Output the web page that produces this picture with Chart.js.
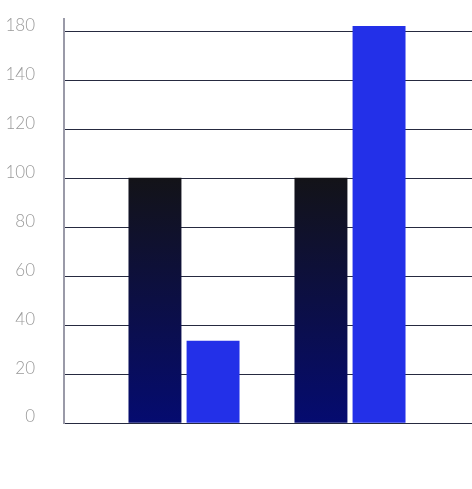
<!DOCTYPE html>
<html>
<head>
<meta charset="utf-8">
<script src="https://cdn.jsdelivr.net/npm/chart.js@4/dist/chart.umd.min.js"></script>
<style>
  html, body { margin: 0; padding: 0; background: #fff; }
  #wrap { width: 472px; height: 489px; }
</style>
</head>
<body>
<div id="wrap"><canvas id="barChart"></canvas></div>
<script>
// Chart data
const categories = [['Current', 'period'], ['Next', 'period']];
const seriesBase = [100, 100];
const seriesNew = [33.5, 162];
const yTickValues = [0, 20, 40, 60, 80, 100, 120, 140, 160];
const yTickLabels = ['0', '20', '40', '60', '80', '100', '120', '140', '180'];

function darkGradient(context) {
    const chart = context.chart;
    const area = chart.chartArea;
    if (!area) return '#0a0d50';
    const y = chart.scales.y;
    const g = chart.ctx.createLinearGradient(0, y.getPixelForValue(100), 0, y.getPixelForValue(0));
    g.addColorStop(0, '#131318');
    g.addColorStop(1, '#050b70');
    return g;
}

const ctx = document.getElementById('barChart').getContext('2d');
new Chart(ctx, {
    type: 'bar',
    data: {
        datasets: [{
            label: 'Base',
            data: seriesBase.map((v, i) => ({ x: i, y: v })),
            backgroundColor: darkGradient,
            borderWidth: 0
        }, {
            label: 'New',
            data: seriesNew.map((v, i) => ({ x: i, y: v })),
            backgroundColor: '#2330e8',
            borderWidth: 0
        }]
    },
    options: {
        responsive: true,
        maintainAspectRatio: false,
        animation: false,
        barThickness: 'flex',
        categoryPercentage: 0.7,
        barPercentage: 0.9,
        layout: { padding: { top: 19, right: 0, left: 0, bottom: 0 } },
        plugins: {
            legend: { display: false },
            tooltip: { enabled: false }
        },
        scales: {
            x: {
                type: 'linear',
                bounds: 'data',
                offset: false,
                min: -0.723,
                max: 1.735,
                grid: { display: false, drawTicks: false, offset: false },
                border: { display: false },
                ticks: {
                    stepSize: 1,
                    includeBounds: false,
                    color: '#ffffff',
                    padding: 22,
                    font: { family: 'Lato', size: 16 },
                    callback: v => categories[v] || ''
                },
                afterFit: s => {
                    s.height = 66;
                    s.paddingLeft = 0;
                    s.paddingRight = 0;
                }
            },
            y: {
                min: 0,
                max: 165,
                afterBuildTicks: s => { s.ticks = yTickValues.map(v => ({ value: v })); },
                grid: { color: '#262a40', lineWidth: 1, drawTicks: false },
                border: { display: true, color: '#9a9aa8', width: 2 },
                ticks: {
                    color: '#9a9a9a',
                    padding: 29,
                    labelOffset: -6,
                    font: { family: 'Lato', size: 17, weight: 300 },
                    callback: (v, i) => yTickLabels[yTickValues.indexOf(v)]
                },
                afterFit: s => {
                    s.width = 64;
                    s.paddingTop = 0;
                    s.paddingBottom = 0;
                }
            }
        }
    }
});
</script>
</body>
</html>
